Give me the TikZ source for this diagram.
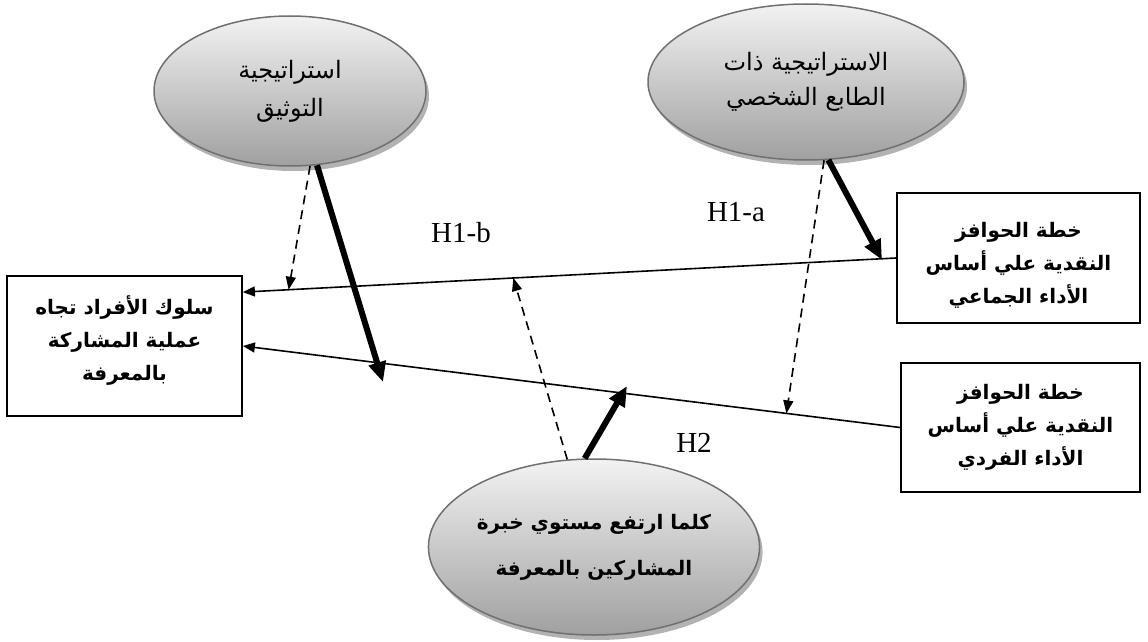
\documentclass[tikz,border=0pt]{standalone}
\usepackage{fontspec}
\setmainfont{Liberation Serif}
\newfontfamily\arabicfont[Script=Arabic]{DejaVu Sans}
\TeXXeTstate=1
\usepackage{tikz}
\usetikzlibrary{positioning,shapes,arrows.meta,shadows,calc}
\definecolor{rimgray}{RGB}{112,112,112}
\definecolor{lowgray}{RGB}{160,160,160}
\newcommand{\artxt}[1]{\beginR #1\endR}
\tikzstyle{hyp}=[%
      ellipse, draw=rimgray, line width=1.5pt, top color=gray!10, bottom color=lowgray,
      drop shadow={shadow xshift=3pt, shadow yshift=-5pt, fill=black!30, opacity=1},
      align=center, inner sep=0pt
]
\tikzstyle{var}=[%
      rectangle, draw=black, line width=1.8pt, fill=white,
      align=center, inner sep=0pt, font=\arabicfont\bfseries\fontsize{20}{33}\selectfont
]
\tikzstyle{link}=[-{Triangle[length=12pt,width=10pt]}, line width=1.6pt]
\tikzstyle{moder}=[-{Triangle[length=13pt,width=10pt]}, line width=1.6pt, dash pattern=on 9pt off 6pt]
\tikzstyle{effect}=[-{Triangle[length=20pt,width=17pt]}, line width=6pt]
\tikzstyle{hlab}=[font=\fontsize{29}{29}\selectfont, inner sep=0pt]

\begin{document}
\begin{tikzpicture}[x=1pt, y=-1pt]
    \useasboundingbox (0,0) rectangle (1148,642);

    % strategies and experience
    \node[hyp, minimum width=272pt, minimum height=150pt, font=\arabicfont\fontsize{24}{38}\selectfont]
        (doc)  at (290,91)  {\artxt{استراتيجية}\\\artxt{التوثيق}};
    \node[hyp, minimum width=316pt, minimum height=156pt, font=\arabicfont\fontsize{24}{35}\selectfont]
        (pers) at (806,82)  {\artxt{الاستراتيجية ذات}\\\artxt{الطابع الشخصي}};
    \node[hyp, minimum width=324pt, minimum height=176pt, font=\arabicfont\bfseries\fontsize{20}{46}\selectfont]
        (expr) at (594,547) {\artxt{كلما ارتفع مستوي خبرة}\\\artxt{المشاركين بالمعرفة}};

    % incentive plans and behaviour
    \node[var, minimum width=235pt, minimum height=140pt, text depth=16pt] (beh) at (124.5,346)
        {\artxt{سلوك الأفراد تجاه}\\\artxt{عملية المشاركة}\\\artxt{بالمعرفة}};
    \node[var, minimum width=243pt, minimum height=130pt, text height=96pt] (grp) at (1018.5,258)
        {\artxt{خطة الحوافز}\\\artxt{النقدية علي أساس}\\\artxt{الأداء الجماعي}};
    \node[var, minimum width=239pt, minimum height=129pt] (ind) at (1020.5,427.5)
        {\artxt{خطة الحوافز}\\\artxt{النقدية علي أساس}\\\artxt{الأداء الفردي}};

    \node[hlab] (h1b) at (461,233) {H1-b};
    \node[hlab] (h1a) at (736,212) {H1-a};
    \node[hlab] (h2)  at (694,443) {H2};

    \coordinate (lin1) at ($(beh.north east)!0.12!(beh.south east)$);
    \coordinate (t1end) at (383,382);
    \coordinate (t2end) at (627,386);
    \coordinate (t3end) at (882,260);
    \coordinate (d1end) at ($(grp.west)!0.93!(lin1)$);
    \coordinate (d2end) at ($(grp.west)!0.586!(lin1)$);
    \coordinate (d3end) at ($(ind.west)!0.173!(beh.east)$);

    \path (grp.west)  edge[link]   (lin1)
          (ind.west)  edge[link]   (beh.east)
          (doc.-70)   edge[effect] (t1end)
          (doc.-75)   edge[moder]  (d1end)
          (pers.-74)  edge[effect] (t3end)
          (pers.-77)  edge[moder]  (d3end)
          (expr.107)  edge[moder]  (d2end)
          (expr.96)   edge[effect] (t2end)
    ;

\end{tikzpicture}
\end{document}
